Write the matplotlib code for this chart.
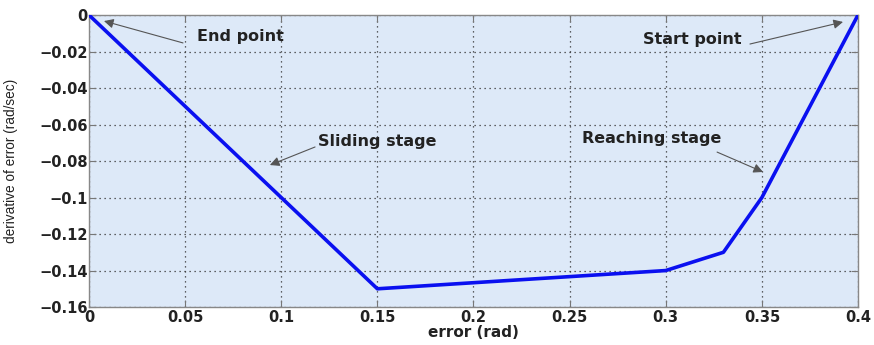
import matplotlib
matplotlib.use("Agg")
import matplotlib.pyplot as plt
import numpy as np

# trajectory in the phase plane (error vs derivative of error)
err = [0.0, 0.15, 0.30, 0.33, 0.35, 0.40]
derr = [0.0, -0.15, -0.14, -0.13, -0.10, 0.0]

x_ticks = [0, 0.05, 0.1, 0.15, 0.2, 0.25, 0.3, 0.35, 0.4]
x_labels = ["0", "0.05", "0.1", "0.15", "0.2", "0.25", "0.3", "0.35", "0.4"]
y_ticks = [0, -0.02, -0.04, -0.06, -0.08, -0.1, -0.12, -0.14, -0.16]
y_labels = ["0", "\u22120.02", "\u22120.04", "\u22120.06", "\u22120.08",
            "\u22120.1", "\u22120.12", "\u22120.14", "\u22120.16"]

# (text, arrow tail, arrow tip) in data units
notes = [
    ("End point", (0.0489, -0.0153), (0.0078, -0.0033)),
    ("Sliding stage", (0.1176, -0.0723), (0.0941, -0.0822)),
    ("Start point", (0.3438, -0.0159), (0.3922, -0.0038)),
    ("Reaching stage", (0.3267, -0.0751), (0.3506, -0.0860)),
]
text_pos = {
    "End point": (0.056, -0.0118, "left"),
    "Sliding stage": (0.119, -0.0695, "left"),
    "Start point": (0.3395, -0.0135, "right"),
    "Reaching stage": (0.329, -0.0676, "right"),
}

plt.rcParams["font.family"] = ["DejaVu Sans"]

fig = plt.figure(figsize=(8.74, 3.45), dpi=100)
ax = fig.add_axes([0.1018, 0.110, 0.8799, 0.8465])
ax.set_facecolor("#dde9f8")

ax.plot(err, derr, color="#0a10f0", lw=2.6, solid_joinstyle="round", zorder=3)

ax.set_xlim(0, 0.4)
ax.set_ylim(-0.16, 0)
ax.set_xticks(x_ticks)
ax.set_xticklabels(x_labels)
ax.set_yticks(y_ticks)
ax.set_yticklabels(y_labels)
ax.tick_params(direction="in", length=5, width=0.8, color="#777777",
               top=True, right=True, labelsize=10.5, labelcolor="#222222")
ax.tick_params(axis="y", pad=1)
ax.tick_params(axis="x", pad=2)
for lab in ax.get_xticklabels() + ax.get_yticklabels():
    lab.set_fontweight("bold")
ax.grid(True, color="#333333", ls=(0, (1, 3)), lw=0.9)
for sp in ax.spines.values():
    sp.set_color("#888888")
    sp.set_linewidth(1.0)

ax.set_xlabel("error (rad)", fontsize=11, fontweight="bold", color="#222222", labelpad=0)
ax.set_ylabel("derivative of error (rad/sec)", fontsize=9.8, color="#222222",
              family="Liberation Sans")
ax.yaxis.set_label_coords(-0.092, 0.5)

for txt, tail, tip in notes:
    ax.annotate("", xy=tip, xytext=tail,
                arrowprops=dict(arrowstyle="-|>", color="#555555", lw=0.8,
                                mutation_scale=14, shrinkA=0, shrinkB=0))
    tx, ty, ha = text_pos[txt]
    ax.text(tx, ty, txt, fontsize=11.5, fontweight="bold", color="#222222",
            ha=ha, va="center")

fig.savefig("out.png", dpi=100)
